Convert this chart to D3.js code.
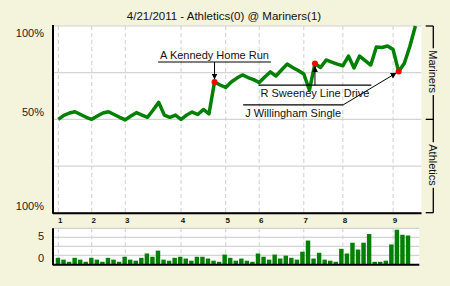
<!DOCTYPE html>
<html>
<head>
<meta charset="utf-8">
<script src="https://cdn.jsdelivr.net/npm/d3@7"></script>
<style>
    body { margin: 0; background: #f4f3dc; }
    svg { display: block; font-family: "Liberation Sans", Arial, sans-serif; }
</style>
</head>
<body>
<svg id="chart" width="450" height="286"></svg>
<script>
//
// ***********************************************************************************
//                      DATA
// ***********************************************************************************
//

const chartTitle = "4/21/2011 - Athletics(0) @ Mariners(1)";
const homeTeam = "Mariners";
const awayTeam = "Athletics";

// Mariners win probability after each plate appearance (index 0 = first pitch).
const winProb = [
    0.500, 0.521, 0.534, 0.541, 0.526, 0.511, 0.500,
    0.518, 0.534, 0.541, 0.526, 0.511, 0.497,
    0.518, 0.536, 0.523, 0.511, 0.550, 0.591, 0.523, 0.511, 0.523, 0.500,
    0.523, 0.539, 0.526, 0.553, 0.529, 0.700, 0.684, 0.671,
    0.700, 0.721, 0.738, 0.724, 0.713, 0.697,
    0.727, 0.754, 0.732, 0.764, 0.796, 0.778, 0.762, 0.743,
    0.657, 0.799, 0.778, 0.818, 0.807, 0.796, 0.787,
    0.839, 0.775, 0.839, 0.815, 0.791, 0.888, 0.885, 0.893, 0.874,
    0.756, 0.799, 0.890, 1.000
];

// Leverage bars, one per plate appearance.
const leverage = [
    -0.7, -1.2, -1.8, -0.7, -1.2, -1.8, -0.7, -1.2, -1.8, -0.7,
    -1.2, -1.8, -0.4, -1.2, -1.5, -0.7, 0.5, -0.4, 1.3, -1.2,
    -1.5, -0.7, -0.4, -0.9, -1.5, -0.4, -0.4, -0.9, -1.5, -1.8,
    0.2, -0.7, -1.5, -0.9, -1.5, -1.8, 0.5, -0.4, -1.2, 0.2,
    -0.9, -0.1, -0.7, -1.2, 1.0, 4.1, -0.9, 0.7, -1.2, -1.5,
    -1.8, 1.8, 0.5, 3.5, 1.6, 3.5, 5.9, -1.8, -1.8, -1.5,
    3.0, 7.1, 5.7, 5.5
];

// Innings: label and the plate appearance index where each one starts.
const inningLabels = ["1", "2", "3", "4", "5", "6", "7", "8", "9"];
const inningStart = [0, 6, 12, 22, 30, 36, 44, 51, 60];

// Y axis ticks.
const probGrid = [0, 0.25, 0.5, 0.75, 1];
const probTicks = [1, 0.5, 0];
const probTickLabels = ["100%", "50%", "100%"];
const barGrid = [0, 2.5, 5];
const barTicks = [5, 0];

// Key plays.
const annotationText = ["A Kennedy Home Run", "R Sweeney Line Drive", "J Willingham Single"];
const annotationIndex = [28, 46, 61];

//
// ***********************************************************************************
//                      SETUP
// ***********************************************************************************
//

const svg = d3.select("#chart");
const BG = "#f4f3dc";
const GREEN = "#008000";
const GRID = "#d4d4d4";

const plot = { left: 53, right: 421.5, top: 26, bottom: 212.7 };
const bars = { left: 53, right: 419.3, top: 228.3, bottom: 264.3 };

const x = d3.scaleLinear().domain([0, winProb.length - 1]).range([58.3, 415.4]);
const y = d3.scaleLinear().domain([0, 1]).range([plot.bottom, plot.top]);

const xBar = d3.scaleBand()
    .domain(d3.range(leverage.length))
    .range([55.2, 410.8])
    .paddingInner(0.2)
    .paddingOuter(0.1);
const yBar = d3.scaleLinear().domain([-2.5, 7.5]).range([bars.bottom, bars.top]);

svg.append("rect").attr("width", 450).attr("height", 286).attr("fill", BG);

// Arrowhead marker.
svg.append("defs").append("marker")
    .attr("id", "arrow")
    .attr("viewBox", "0 0 10 10")
    .attr("refX", 10).attr("refY", 5)
    .attr("markerWidth", 6).attr("markerHeight", 6)
    .attr("markerUnits", "userSpaceOnUse")
    .attr("orient", "auto")
    .append("path")
    .attr("d", "M0,0 L10,5 L0,10 Z")
    .attr("fill", "#000");

// Title.
svg.append("text")
    .attr("x", 224).attr("y", 19.5)
    .attr("text-anchor", "middle")
    .attr("font-size", 11.5)
    .attr("fill", "#111")
    .text(chartTitle);

//
// ***********************************************************************************
//                      WIN PROBABILITY PLOT
// ***********************************************************************************
//

svg.append("rect")
    .attr("x", plot.left).attr("y", plot.top)
    .attr("width", plot.right - plot.left).attr("height", plot.bottom - plot.top)
    .attr("fill", "#fff");

svg.append("g").selectAll("line")
    .data(probGrid)
    .join("line")
    .attr("x1", plot.left).attr("x2", plot.right)
    .attr("y1", d => y(d)).attr("y2", d => y(d))
    .attr("stroke", GRID).attr("stroke-width", 1.2);

svg.append("g").selectAll("line")
    .data(inningStart)
    .join("line")
    .attr("x1", d => x(d)).attr("x2", d => x(d))
    .attr("y1", plot.top).attr("y2", plot.bottom)
    .attr("stroke", "#cfcfcf").attr("stroke-dasharray", "4,3");

// Left tick labels: top one sits below its line, others above.
svg.append("g").selectAll("text")
    .data(probTicks)
    .join("text")
    .attr("x", 44)
    .attr("y", (d, i) => i === 0 ? y(d) + 11 : y(d) - 3)
    .attr("text-anchor", "end")
    .attr("font-size", 11)
    .attr("fill", "#222")
    .text((d, i) => probTickLabels[i]);

// Axis lines.
svg.append("line")
    .attr("x1", plot.left).attr("x2", plot.left)
    .attr("y1", plot.top - 1).attr("y2", plot.bottom + 1)
    .attr("stroke", "#000").attr("stroke-width", 2);
svg.append("line")
    .attr("x1", plot.left).attr("x2", plot.right)
    .attr("y1", plot.bottom + 0.5).attr("y2", plot.bottom + 0.5)
    .attr("stroke", "#000").attr("stroke-width", 2);

// Inning labels.
svg.append("g").selectAll("text")
    .data(inningStart)
    .join("text")
    .attr("x", d => x(d) + 2)
    .attr("y", 223)
    .attr("text-anchor", "middle")
    .attr("font-size", 8)
    .attr("font-weight", "bold")
    .attr("fill", "#111")
    .text((d, i) => inningLabels[i]);

// Win probability line.
svg.append("path")
    .datum(winProb)
    .attr("d", d3.line().x((d, i) => x(i)).y(d => y(d)))
    .attr("fill", "none")
    .attr("stroke", GREEN)
    .attr("stroke-width", 3.5)
    .attr("stroke-linejoin", "round");

//
// ***********************************************************************************
//                      TEAM BRACKET
// ***********************************************************************************
//

const bx = 433.3;
const bracket = svg.append("g").attr("stroke", "#000").attr("stroke-width", 1.3);
bracket.append("line").attr("x1", bx).attr("x2", bx).attr("y1", y(1)).attr("y2", y(0));
[1, 0.5, 0].forEach(v => {
    bracket.append("line").attr("x1", 425.7).attr("x2", bx).attr("y1", y(v)).attr("y2", y(v));
});

[[homeTeam, 0.75], [awayTeam, 0.25]].forEach(([name, v]) => {
    const cy = y(v) - 1;
    const g = svg.append("g").attr("transform", `translate(${bx},${cy}) rotate(90)`);
    const rect = g.append("rect").attr("fill", BG);
    const t = g.append("text")
        .attr("text-anchor", "middle")
        .attr("dy", "0.35em")
        .attr("font-size", 11)
        .attr("fill", "#111")
        .text(name);
    const len = t.node().getComputedTextLength();
    rect.attr("x", -len / 2 - 2).attr("y", -6).attr("width", len + 4).attr("height", 12);
});

//
// ***********************************************************************************
//                      ANNOTATIONS
// ***********************************************************************************
//

// Layout of each callout relative to its point: rule offset and which side the text hangs.
const calloutLayout = [
    { dx: 0, dy: -20, align: "center", below: false },
    { dx: 0, dy: 21.5, align: "center", below: true },
    { dx: -55.5, dy: 33.3, align: "right", below: true }
];

annotationText.forEach((label, i) => {
    const k = annotationIndex[i];
    const px = x(k), py = y(winProb[k]);
    const L = calloutLayout[i];
    const g = svg.append("g");
    const ruleY = py + L.dy;

    const t = g.append("text")
        .attr("y", L.below ? ruleY + 11.7 : ruleY - 2.7)
        .attr("font-size", 11)
        .attr("fill", "#111")
        .text(label);
    const w = t.node().getComputedTextLength() + 4;
    let x0;
    if (L.align === "center") x0 = px + L.dx - w / 2;
    else x0 = px + L.dx - w;
    t.attr("x", x0 + 2);

    g.append("line")
        .attr("x1", x0).attr("x2", x0 + w)
        .attr("y1", ruleY).attr("y2", ruleY)
        .attr("stroke", "#000").attr("stroke-width", 1.2);

    // Arrow from rule to the point.
    let sx, sy;
    if (L.align === "center") { sx = px; sy = ruleY; }
    else { sx = x0 + w; sy = ruleY; }
    const ang = Math.atan2(py - sy, px - sx);
    g.append("line")
        .attr("x1", sx).attr("y1", sy)
        .attr("x2", px - Math.cos(ang) * 2.5).attr("y2", py - Math.sin(ang) * 2.5)
        .attr("stroke", "#000").attr("stroke-width", 1)
        .attr("marker-end", "url(#arrow)");

    svg.append("circle")
        .attr("cx", px).attr("cy", py).attr("r", 3)
        .attr("fill", "#ff0000");
});

//
// ***********************************************************************************
//                      LEVERAGE BARS
// ***********************************************************************************
//

svg.append("rect")
    .attr("x", bars.left).attr("y", bars.top)
    .attr("width", bars.right - bars.left).attr("height", bars.bottom - bars.top)
    .attr("fill", "#fff");

svg.append("g").selectAll("line")
    .data(barGrid.concat([7.5]))
    .join("line")
    .attr("x1", bars.left).attr("x2", bars.right)
    .attr("y1", d => yBar(d)).attr("y2", d => yBar(d))
    .attr("stroke", GRID).attr("stroke-width", 1.2);

svg.append("g").selectAll("line")
    .data(inningStart)
    .join("line")
    .attr("x1", d => x(d)).attr("x2", d => x(d))
    .attr("y1", bars.top).attr("y2", bars.bottom)
    .attr("stroke", "#cfcfcf").attr("stroke-dasharray", "4,3");

svg.append("g").selectAll("rect")
    .data(leverage)
    .join("rect")
    .attr("x", (d, i) => xBar(i))
    .attr("width", xBar.bandwidth())
    .attr("y", d => yBar(d))
    .attr("height", d => yBar(-2.5) - yBar(d))
    .attr("fill", GREEN);

svg.append("g").selectAll("text")
    .data(barTicks)
    .join("text")
    .attr("x", 44)
    .attr("y", d => d === 0 ? yBar(d) + 7 : yBar(d) + 2.5)
    .attr("text-anchor", "end")
    .attr("font-size", 11)
    .attr("fill", "#222")
    .text(d => d);

svg.append("line")
    .attr("x1", bars.left).attr("x2", bars.left)
    .attr("y1", bars.top).attr("y2", bars.bottom + 1)
    .attr("stroke", "#000").attr("stroke-width", 2);
svg.append("line")
    .attr("x1", bars.left).attr("x2", bars.right)
    .attr("y1", bars.bottom + 0.5).attr("y2", bars.bottom + 0.5)
    .attr("stroke", "#000").attr("stroke-width", 2);
</script>
</body>
</html>
